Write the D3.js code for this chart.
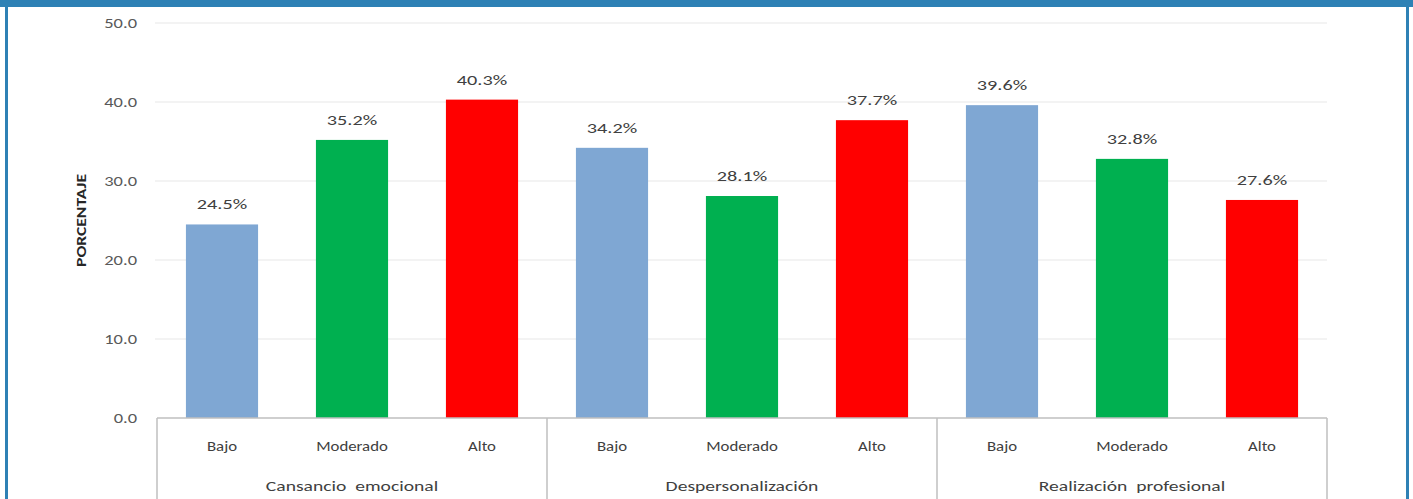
<!DOCTYPE html>
<html>
<head>
<meta charset="utf-8">
<script src="https://cdn.jsdelivr.net/npm/d3@7"></script>
<style>
  body { margin: 0; background: #fff; }
  svg { display: block; font-family: Calibri, Carlito, Lato, "Liberation Sans", sans-serif; }
</style>
</head>
<body>
<div id="chart"></div>
<script>
const width = 1413;
const height = 499;

// data
const groups = ["Cansancio  emocional", "Despersonalización", "Realización  profesional"];
const levels = ["Bajo", "Moderado", "Alto"];
const cansancio = [24.5, 35.2, 40.3];
const despersonalizacion = [34.2, 28.1, 37.7];
const realizacion = [39.6, 32.8, 27.6];
const yTicks = [0, 10, 20, 30, 40, 50];
const colors = ["#7fa7d3", "#00b050", "#ff0000"];

const seriesByGroup = [cansancio, despersonalizacion, realizacion];
const data = [];
groups.forEach(function(g, gi) {
    levels.forEach(function(l, li) {
        data.push({ group: g, level: l, key: g + "|" + l, value: seriesByGroup[gi][li], color: colors[li] });
    });
});

const svg = d3.select("#chart").append("svg")
    .attr("width", width)
    .attr("height", height);

// blue frame
svg.append("rect").attr("x", 0).attr("y", 0).attr("width", width).attr("height", 7).attr("fill", "#2e81b5");
svg.append("rect").attr("x", 5).attr("y", 0).attr("width", 3).attr("height", height).attr("fill", "#2e81b5");
svg.append("rect").attr("x", 1406).attr("y", 0).attr("width", 3).attr("height", height).attr("fill", "#2e81b5");

//----------------------------SCALES----------------------------//
const left = 157, right = 1327;
const y = d3.scaleLinear().domain([0, 50]).range([418, 23]);
const xGroup = d3.scaleBand().domain(groups).range([left, right]);
const x = d3.scaleBand().domain(data.map(d => d.key)).range([left, right]).paddingInner(0.445).paddingOuter(0.2225);

// the source picture is stretched sideways, so text is widened to match
const stretched = (px, py, sx) => `translate(${px},${py}) scale(${sx},1)`;

//-----------------------------GRID-----------------------------//
svg.append("g")
    .selectAll("line")
    .data(yTicks.slice(1))
    .join("line")
    .attr("x1", left - 2)
    .attr("x2", right)
    .attr("y1", d => y(d))
    .attr("y2", d => y(d))
    .attr("stroke", "#efefef")
    .attr("stroke-width", 1.5);

// y axis labels
svg.append("g")
    .selectAll("text")
    .data(yTicks)
    .join("text")
    .attr("transform", d => stretched(137, y(d), 1.32))
    .attr("dy", "0.35em")
    .attr("text-anchor", "end")
    .attr("fill", "#595959")
    .style("font-size", "14px")
    .text(d3.format(".1f"));

svg.append("text")
    .attr("transform", `translate(86,${y(25)}) rotate(-90) scale(1.35,1.1)`)
    .attr("text-anchor", "middle")
    .attr("fill", "#262626")
    .style("font-size", "13px")
    .style("font-weight", "bold")
    .text("PORCENTAJE");

//----------------------------BARS-----------------------------//
svg.append("g")
    .selectAll("rect")
    .data(data)
    .join("rect")
    .attr("x", d => x(d.key))
    .attr("y", d => y(d.value))
    .attr("width", x.bandwidth())
    .attr("height", d => y(0) - y(d.value))
    .attr("fill", d => d.color);

svg.append("g")
    .selectAll("text")
    .data(data)
    .join("text")
    .attr("transform", d => stretched(x(d.key) + x.bandwidth() / 2, y(d.value) - 15, 1.35))
    .attr("text-anchor", "middle")
    .attr("fill", "#404040")
    .style("font-size", "15px")
    .text(d => d3.format(".1f")(d.value) + "%");

//----------------------------CATEGORY AXIS-----------------------------//
const axisG = svg.append("g").attr("stroke", "#bfbfbf").attr("stroke-width", 1.5);
axisG.append("line")
    .attr("x1", left).attr("x2", right)
    .attr("y1", y(0)).attr("y2", y(0));
axisG.selectAll("line.sep")
    .data(groups.map(g => xGroup(g)).concat([right]))
    .join("line")
    .attr("class", "sep")
    .attr("x1", d => d).attr("x2", d => d)
    .attr("y1", y(0)).attr("y2", height);

svg.append("g")
    .selectAll("text")
    .data(data)
    .join("text")
    .attr("transform", d => stretched(x(d.key) + x.bandwidth() / 2, 451, 1.2))
    .attr("text-anchor", "middle")
    .attr("fill", "#404040")
    .style("font-size", "14px")
    .text(d => d.level);

svg.append("g")
    .selectAll("text")
    .data(groups)
    .join("text")
    .attr("transform", d => stretched(xGroup(d) + xGroup.bandwidth() / 2, 491, 1.4))
    .attr("text-anchor", "middle")
    .attr("fill", "#404040")
    .style("font-size", "14px")
    .style("white-space", "pre")
    .text(d => d);
</script>
</body>
</html>
